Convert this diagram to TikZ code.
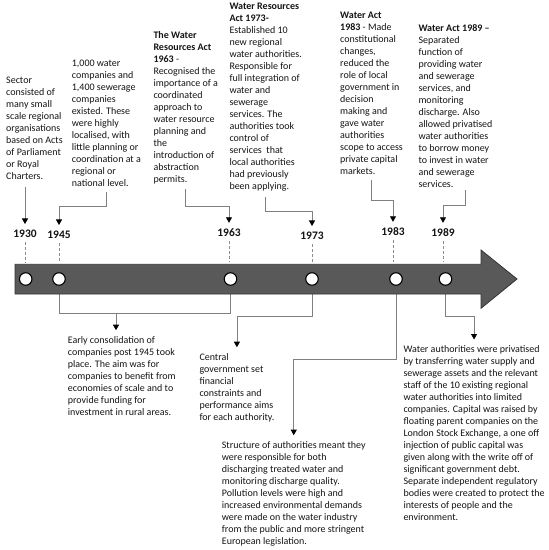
\documentclass[tikz,border=0pt]{standalone}
\usepackage{fontspec}
\setmainfont{Carlito}
\usetikzlibrary{arrows.meta,positioning}

\begin{document}
\begin{tikzpicture}[x=1pt,y=-1pt,
    every node/.style={inner sep=0pt,text=black!92},
    note/.style={anchor=north west,align=left,font=\fontsize{10}{12}\selectfont},
    year/.style={font=\fontsize{11.5}{13}\selectfont\bfseries},
    link/.style={draw=black!50,line width=0.8pt},
    conn/.style={link,-{Triangle[black,length=5.5pt,width=6pt]},shorten >=6pt},
    tick/.style={draw=black!45,dash pattern=on 3pt off 2pt,line width=0.6pt},
    dot/.style={circle,draw=black,line width=1.1pt,fill=white,minimum size=12.5pt}]

  \useasboundingbox (0,0) rectangle (549,550);

  % Years
  \node[year] (y1930) at (25,234)  {1930};
  \node[year] (y1945) at (59,235)  {1945};
  \node[year] (y1963) at (229,233) {1963};
  \node[year] (y1973) at (312,236) {1973};
  \node[year] (y1983) at (393,232) {1983};
  \node[year] (y1989) at (443,233) {1989};

  % Points on the time line
  \coordinate (c1930) at (25.7,279);
  \coordinate (c1945) at (59,279);
  \coordinate (c1963) at (230.5,279);
  \coordinate (c1973) at (312,279);
  \coordinate (c1983) at (396,279);
  \coordinate (c1989) at (445.5,279);
  \coordinate (shaft) at (15,264.3);

  % Texts above the line
  \node[note] (t1930) at (6,76.5) {Sector\\consisted of\\many small\\scale regional\\organisations\\based on Acts\\of Parliament\\or Royal\\Charters.};
  \node[note] (t1945) at (71.7,59.8) {1,000 water\\companies and\\1,400 sewerage\\companies\\existed. These\\were highly\\localised, with\\little planning or\\coordination at a\\regional or\\national level.};
  \node[note] (t1963) at (153.3,31.2) {\textbf{The Water}\\\textbf{Resources Act}\\\textbf{1963} -\\Recognised the\\importance of a\\coordinated\\approach to\\water resource\\planning and\\the\\introduction of\\abstraction\\permits.};
  \node[note] (t1973) at (229.3,2.8) {\textbf{Water Resources}\\\textbf{Act 1973-}\\Established 10\\new regional\\water authorities.\\Responsible for\\full integration of\\water and\\sewerage\\services. The\\authorities took\\control of\\services\ \ that\\local authorities\\had previously\\been applying.};
  \node[note] (t1983) at (340,11.5) {\textbf{Water Act}\\\textbf{1983} - Made\\constitutional\\changes,\\reduced the\\role of local\\government in\\decision\\making and\\gave water\\authorities\\scope to access\\private capital\\markets.};
  \node[note] (t1989) at (418.3,24.8) {\textbf{Water Act 1989 –}\\Separated\\function of\\providing water\\and sewerage\\services, and\\monitoring\\discharge. Also\\allowed privatised\\water authorities\\to borrow money\\to invest in water\\and sewerage\\services.};

  % Texts below the line
  \node[note] (b1945) at (67.7,336.2) {Early consolidation of\\companies post 1945 took\\place. The aim was for\\companies to benefit from\\economies of scale and to\\provide funding for\\investment in rural areas.};
  \node[note] (b1973) at (199.3,353.2) {Central\\government set\\financial\\constraints and\\performance aims\\for each authority.};
  \node[note] (b1983) at (221.7,441.2) {Structure of authorities meant they\\were responsible for both\\discharging treated water and\\monitoring discharge quality.\\Pollution levels were high and\\increased environmental demands\\were made on the water industry\\from the public and more stringent\\European legislation.};
  \node[note] (b1989) at (403.3,345.5) {Water authorities were privatised\\by transferring water supply and\\sewerage assets and the relevant\\staff of the 10 existing regional\\water authorities into limited\\companies. Capital was raised by\\floating parent companies on the\\London Stock Exchange, a one off\\injection of public capital was\\given along with the write off of\\significant government debt.\\Separate independent regulatory\\bodies were created to protect the\\interests of people and the\\environment.};

  % Arrows from the texts to the years
  \draw[conn,shorten <=8pt] (y1930 |- t1930.south) -- (y1930.north);
  \draw[conn,shorten <=5pt] (t1945.south) -- ++(0,20) -| (y1945.north);
  \draw[conn,shorten <=5pt] (t1963.south) -- ++(0,22) -| (y1963.north);
  \draw[conn,shorten <=6pt] (t1973.south) -- ++(0,20) -| (y1973.north);
  \draw[conn,shorten <=6pt] (t1983.south) -- ++(0,26) -| (y1983.north);
  \draw[conn,shorten <=2pt] ([xshift=10pt]t1989.south) -- ++(0,17) -| (y1989.north);

  % Arrows from the line to the texts below
  \coordinate (j1945) at (116,313.3);
  \draw[link] (c1945) |- (j1945) -| (c1963);
  \draw[conn] (j1945) -- (j1945 |- b1945.north);
  \draw[conn] (c1973) -- ++(0,37) -| (b1973.north);
  \draw[conn] (c1983) -- ++(0,80) -| (b1983.north);
  \draw[conn] (c1989) -- ++(0,37) -| (b1989.north);

  % Dashed ticks
  \draw[tick,shorten <=4pt,shorten >=2pt] (y1930.south) -- (y1930 |- shaft);
  \draw[tick,shorten <=4pt,shorten >=2pt] (y1945.south) -- (y1945 |- shaft);
  \draw[tick,shorten <=4pt,shorten >=2pt] (y1963.south) -- (y1963 |- shaft);
  \draw[tick,shorten <=4pt,shorten >=2pt] (y1973.south) -- (y1973 |- shaft);
  \draw[tick,shorten <=4pt,shorten >=2pt] (y1983.south) -- (y1983 |- shaft);
  \draw[tick,shorten <=4pt,shorten >=2pt] (y1989.south) -- (y1989 |- shaft);

  % Time line arrow
  \filldraw[fill=black!65,draw=black!80,line width=0.8pt]
    (shaft) -- (481,264.3) -- (481,250) -- (517,279) -- (481,308.3)
    -- (481,294) -- (15,294) -- cycle;

  \node[dot] (d1930) at (c1930) {};
  \node[dot] (d1945) at (c1945) {};
  \node[dot] (d1963) at (c1963) {};
  \node[dot] (d1973) at (c1973) {};
  \node[dot] (d1983) at (c1983) {};
  \node[dot] (d1989) at (c1989) {};

\end{tikzpicture}
\end{document}
